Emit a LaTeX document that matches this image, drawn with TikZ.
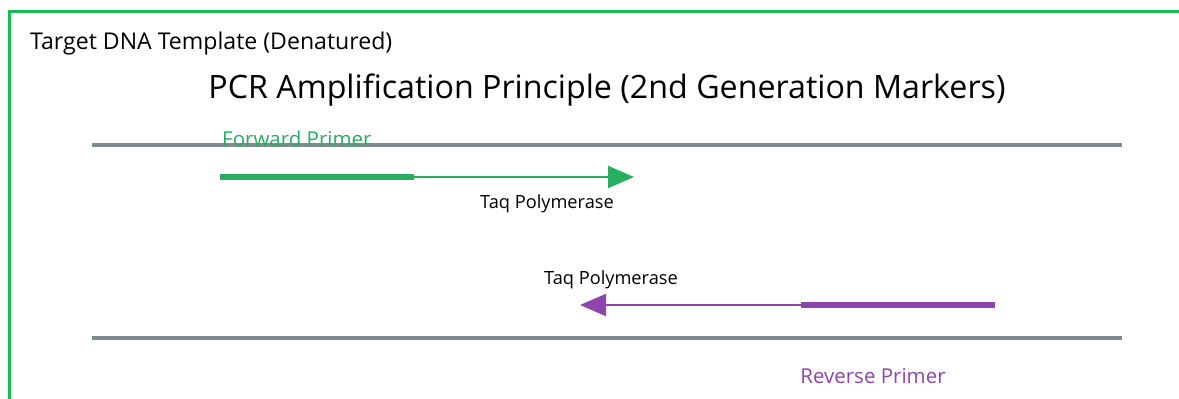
\documentclass[tikz,border=0pt]{standalone}
\usepackage{fontspec}
\setmainfont{Open Sans}
\usetikzlibrary{arrows.meta}
\definecolor{frameg}{HTML}{1DB954}
\definecolor{fwd}{HTML}{27AE60}
\definecolor{rev}{HTML}{8E44AD}
\definecolor{strand}{HTML}{7F8C8D}
\begin{document}
\begin{tikzpicture}[x=1pt,y=-1pt,
  strandline/.style={draw=strand,line width=4pt},
  primer/.style={line width=6pt},
  ext/.style={line width=2pt,-{Triangle[length=26pt,width=22pt]}},
  lbl/.style={inner sep=0pt,font=\fontsize{18.2}{20}\selectfont},
  plbl/.style={inner sep=0pt,font=\fontsize{20.5}{22}\selectfont}]
\useasboundingbox (0,0) rectangle (1179,399);
\clip (0,0) rectangle (1179,399);
\fill[white] (0,0) rectangle (1179,399);
\draw[frameg,line width=3pt] (9.5,11.5) rectangle (1220,440);
\node[anchor=west,inner sep=0pt,font=\fontsize{23.1}{26}\selectfont] (tgt) at (30,43) {Target DNA Template (Denatured)};
\node[inner sep=0pt,font=\fontsize{32.2}{36}\selectfont] (title) at (607,90) {PCR Amplification Principle (2nd Generation Markers)};
\coordinate (s1a) at (92,145); \coordinate (s1b) at (1122,145);
\coordinate (s2a) at (92,338); \coordinate (s2b) at (1122,338);
\draw[strandline] (s1a) -- (s1b);
\draw[strandline] (s2a) -- (s2b);
\node[plbl,anchor=west,text=fwd] (fp) at (222,139) {Forward Primer};
\coordinate (f0) at (220,177); \coordinate (f1) at (414,177); \coordinate (f2) at (634,177);
\draw[fwd,primer] (f0) -- (f1);
\draw[fwd,ext] (f1) -- (f2);
\node[lbl] (taq1) at (547,204) {Taq Polymerase};
\coordinate (r0) at (995,305); \coordinate (r1) at (801,305); \coordinate (r2) at (580,305);
\draw[rev,primer] (r0) -- (r1);
\draw[rev,ext] (r1) -- (r2);
\node[lbl] (taq2) at (611,280) {Taq Polymerase};
\node[plbl,text=rev] (rp) at (873,376) {Reverse Primer};
\end{tikzpicture}
\end{document}
